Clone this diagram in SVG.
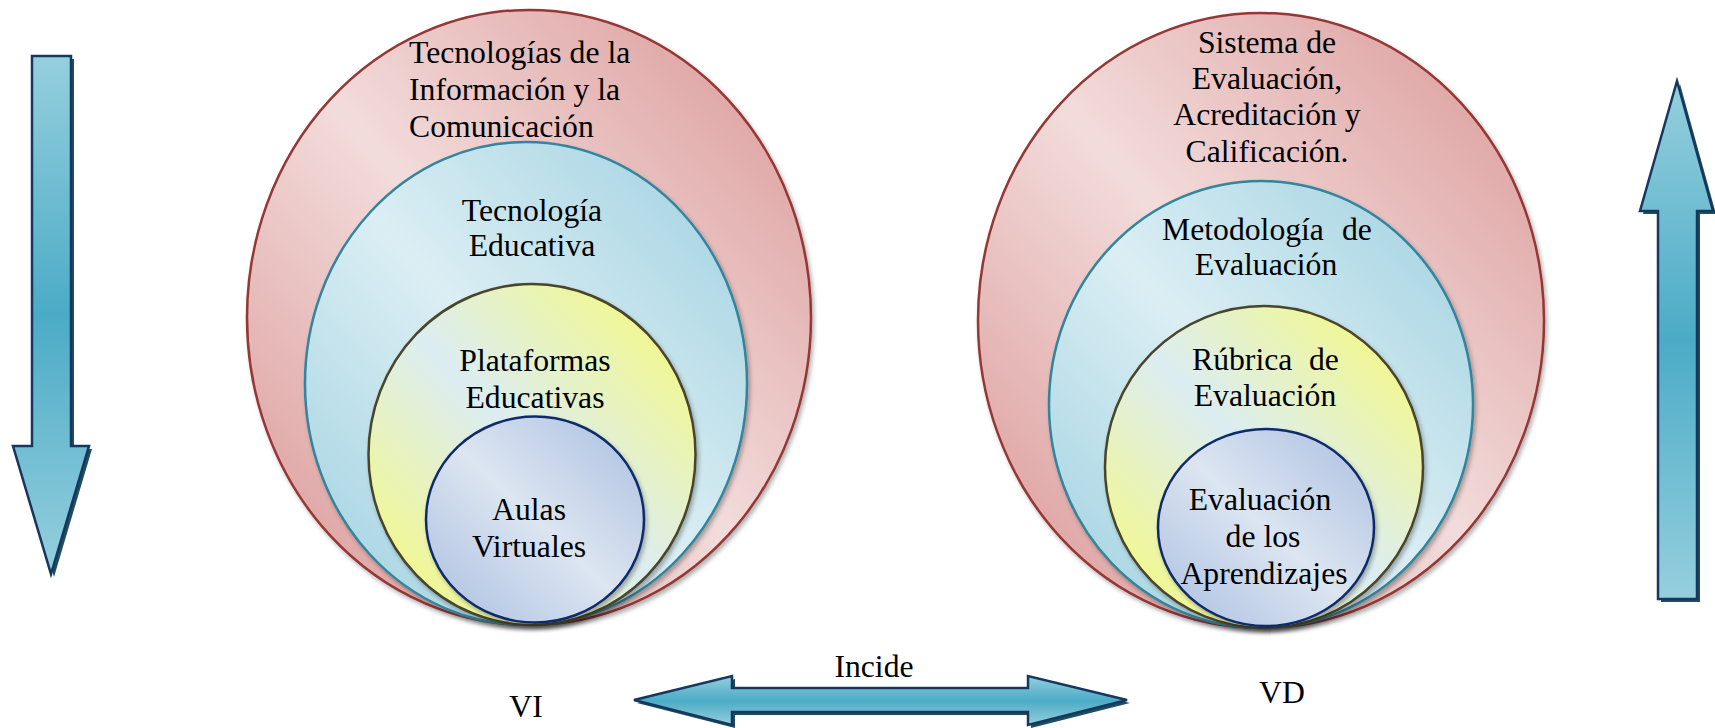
<svg xmlns="http://www.w3.org/2000/svg" width="1715" height="728" viewBox="0 0 1715 728">
<style>
text{font-family:"Liberation Serif","Times New Roman",serif;font-size:31.7px;fill:#000}
.m{text-anchor:middle}
.red{fill:url(#gRed);stroke:#953735;stroke-width:2.5}
.blu{fill:url(#gBlue);stroke:#31859c;stroke-width:2.5}
.yel{fill:url(#gYel);stroke:#4a452a;stroke-width:2.5}
.inn{fill:url(#gInn);stroke:#0e2a6b;stroke-width:2.5}
.ell{filter:url(#sh)}
.arr{fill:url(#gArr);stroke:#17375e;stroke-width:2.5;stroke-linejoin:miter}
.arrsh{fill:#1f4f5f}
</style>
<defs>
<filter id="sh" x="-10%" y="-10%" width="120%" height="120%">
<feDropShadow dx="2" dy="3" stdDeviation="2" flood-color="#000" flood-opacity="0.3"/>
</filter>
<linearGradient id="gRed" x1="1" y1="0" x2="0" y2="1">
<stop offset="0" stop-color="#d99594"/>
<stop offset="0.5" stop-color="#f2dcdb"/>
<stop offset="1" stop-color="#d99594"/>
</linearGradient>
<linearGradient id="gBlue" x1="1" y1="0" x2="0" y2="1">
<stop offset="0" stop-color="#9dd0df"/>
<stop offset="0.5" stop-color="#dbeef4"/>
<stop offset="1" stop-color="#9dd0df"/>
</linearGradient>
<linearGradient id="gYel" x1="1" y1="0" x2="0" y2="1">
<stop offset="0" stop-color="#f8fb70"/>
<stop offset="0.5" stop-color="#dcedf3"/>
<stop offset="1" stop-color="#f8fb70"/>
</linearGradient>
<linearGradient id="gInn" x1="1" y1="0" x2="0" y2="1">
<stop offset="0" stop-color="#a9bee0"/>
<stop offset="0.5" stop-color="#dce5f1"/>
<stop offset="1" stop-color="#a9bee0"/>
</linearGradient>
<linearGradient id="gArr" x1="0" y1="0" x2="0" y2="1">
<stop offset="0" stop-color="#95cfde"/>
<stop offset="0.5" stop-color="#4babc6"/>
<stop offset="1" stop-color="#95cfde"/>
</linearGradient>
</defs>

<g id="left-set">
<g id="tic">
<ellipse class="red ell" cx="529" cy="317.5" rx="282" ry="307.5"/>
<text x="409" y="63">Tecnologías de la</text>
<text x="409" y="100">Información y la</text>
<text x="409" y="137">Comunicación</text>
</g>
<g id="tecnologia-educativa">
<ellipse class="blu ell" cx="526" cy="383.5" rx="221" ry="241.5"/>
<text class="m" x="532" y="221">Tecnología</text>
<text class="m" x="532" y="256">Educativa</text>
</g>
<g id="plataformas-educativas">
<ellipse class="yel ell" cx="532" cy="454.5" rx="163.5" ry="170.5"/>
<text class="m" x="535" y="371">Plataformas</text>
<text class="m" x="535" y="408">Educativas</text>
</g>
<g id="aulas-virtuales">
<ellipse class="inn ell" cx="535" cy="519.5" rx="109" ry="103"/>
<text class="m" x="529" y="520">Aulas</text>
<text class="m" x="529" y="557">Virtuales</text>
</g>
</g>

<g id="right-set">
<g id="sistema-evaluacion">
<ellipse class="red ell" cx="1261" cy="320.5" rx="283" ry="307.5"/>
<text class="m" x="1267" y="53">Sistema de</text>
<text class="m" x="1267" y="89">Evaluación,</text>
<text class="m" x="1267" y="125">Acreditación y</text>
<text class="m" x="1267" y="162">Calificación.</text>
</g>
<g id="metodologia-evaluacion">
<ellipse class="blu ell" cx="1261" cy="404.5" rx="212" ry="223.5"/>
<text y="240"><tspan x="1162">Metodología</tspan><tspan x="1342">de</tspan></text>
<text class="m" x="1266" y="275">Evaluación</text>
</g>
<g id="rubrica-evaluacion">
<ellipse class="yel ell" cx="1264" cy="467" rx="159" ry="161"/>
<text y="370"><tspan x="1192">Rúbrica</tspan><tspan x="1309">de</tspan></text>
<text class="m" x="1265" y="406">Evaluación</text>
</g>
<g id="evaluacion-aprendizajes">
<ellipse class="inn ell" cx="1266" cy="527.5" rx="108" ry="98.5"/>
<text class="m" x="1260" y="510">Evaluación</text>
<text class="m" x="1263" y="547">de los</text>
<text class="m" x="1264" y="584">Aprendizajes</text>
</g>
</g>

<g id="connectors">
<g id="arrow-down">
<polygon class="arrsh" transform="translate(3,3)" points="32,56 71,56 71,446 89,446 51,574 13,446 32,446"/>
<polygon class="arr" points="32,56 71,56 71,446 89,446 51,574 13,446 32,446"/>
</g>
<g id="arrow-up">
<polygon class="arrsh" transform="translate(3,3)" points="1677,81 1713,211 1697,211 1697,599 1658,599 1658,211 1640,211"/>
<polygon class="arr" points="1677,81 1713,211 1697,211 1697,599 1658,599 1658,211 1640,211"/>
</g>
<g id="arrow-incide">
<polygon class="arrsh" transform="translate(3,3)" points="634,700 732,676 732,688 1028,688 1028,676 1127,700 1028,725 1028,712 732,712 732,725"/>
<polygon class="arr" points="634,700 732,676 732,688 1028,688 1028,676 1127,700 1028,725 1028,712 732,712 732,725"/>
</g>
</g>

<g id="labels">
<text class="m" x="874" y="677">Incide</text>
<text class="m" x="526" y="717">VI</text>
<text class="m" x="1282" y="703">VD</text>
</g>
</svg>
